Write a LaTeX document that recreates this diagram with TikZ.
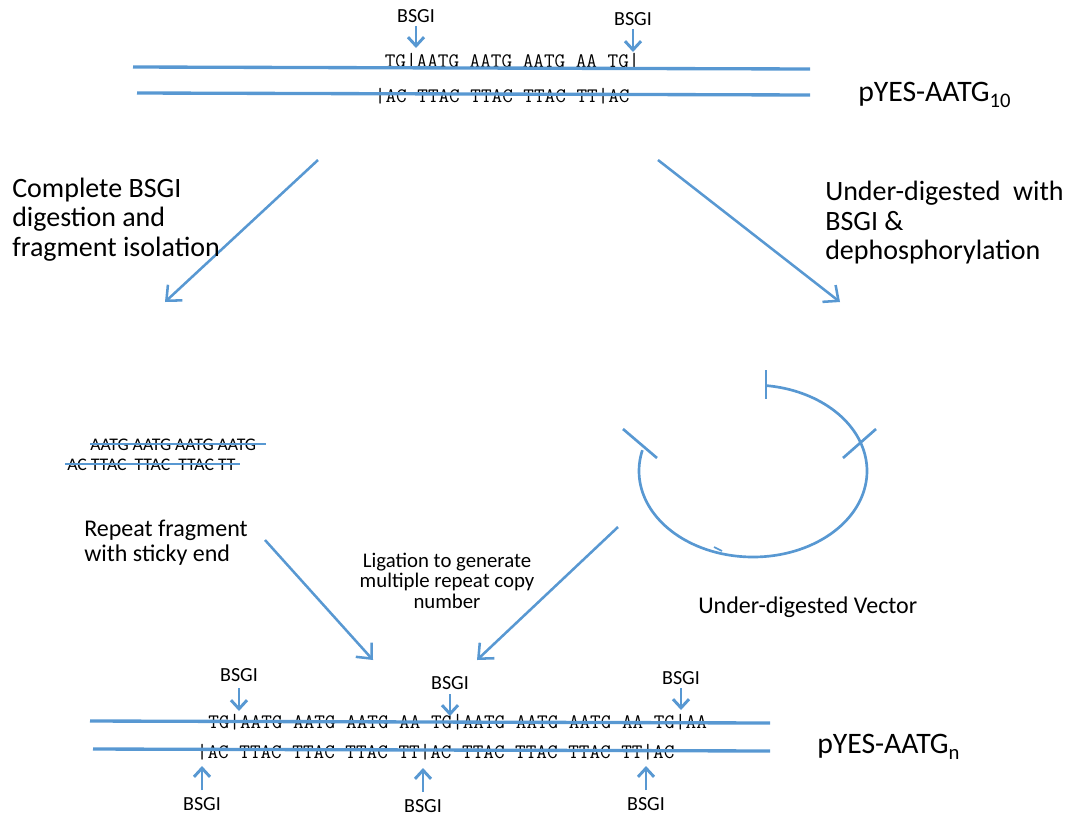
\documentclass[tikz,border=0pt]{standalone}
\usepackage{fontspec}
\setmainfont{Carlito}
\usetikzlibrary{arrows.meta}
\definecolor{dnablue}{RGB}{88,152,210}
\begin{document}
\begin{tikzpicture}[x=0.75pt,y=-0.75pt,
  strand/.style={draw=dnablue, line width=2.5pt},
  bigarrow/.style={draw=dnablue, line width=1.9pt, -{Straight Barb[length=9pt,width=16pt]}},
  cutarrow/.style={draw=dnablue, line width=2.2pt, -{Straight Barb[length=6.5pt,width=12pt]}},
  ring/.style={draw=dnablue, line width=2pt},
  seq/.style={inner sep=0pt, anchor=base west, font=\ttfamily\fontsize{15.45}{17}\selectfont},
  frag/.style={inner sep=0pt, anchor=base west, font=\fontsize{13.3}{15}\selectfont},
  big/.style={inner sep=0pt, anchor=base west, font=\fontsize{21}{24}\selectfont},
  mid/.style={inner sep=0pt, anchor=base west, font=\fontsize{18}{21}\selectfont},
  small/.style={inner sep=0pt, anchor=base, font=\fontsize{15.6}{18}\selectfont},
  enz/.style={inner sep=0pt, anchor=base, font=\fontsize{15}{18}\selectfont},
  plab/.style={inner sep=0pt, anchor=base west, font=\fontsize{22.3}{24}\selectfont}]
\useasboundingbox (0,0) rectangle (1070,815);

% ---------- top construct ----------
\node[seq] (topS) at (384.6,67) {TG|AATG AATG AATG AA TG|};
\node[seq] (topA) at (374.7,102) {|AC TTAC TTAC TTAC TT|AC};
\coordinate (t1a) at (133,67); \coordinate (t1b) at (810,69);
\coordinate (t2a) at (137,93); \coordinate (t2b) at (810,95);
\draw[strand] (t1a) -- (t1b);
\draw[strand] (t2a) -- (t2b);
\node[enz] (eT1) at (416,22) {BSGI};
\node[enz] (eT2) at (633,25) {BSGI};
\coordinate (cT1a) at (416,26); \coordinate (cT1b) at (416,48);
\coordinate (cT2a) at (633,29); \coordinate (cT2b) at (633,52);
\draw[cutarrow] (cT1a) -- (cT1b);
\draw[cutarrow] (cT2a) -- (cT2b);
\node[plab] (pTop) at (858,101) {pYES-AATG\raisebox{-0.22em}{\fontsize{15.5}{16}\selectfont 10}};

% ---------- branch arrows ----------
\coordinate (aLs) at (318,160); \coordinate (aLe) at (165,302);
\coordinate (aRs) at (658,160); \coordinate (aRe) at (840,302);
\draw[bigarrow] (aLs) -- (aLe);
\draw[bigarrow] (aRs) -- (aRe);
\node[big] (L1) at (12,197) {Complete BSGI};
\node[big] (L2) at (12,226.5) {digestion and};
\node[big] (L3) at (12,256) {fragment isolation};
\node[big] (R1) at (825,200) {Under-digested\ \ with};
\node[big] (R2) at (825,230) {BSGI \&};
\node[big] (R3) at (825,259) {dephosphorylation};

% ---------- repeat fragment ----------
\node[frag] (fTop) at (90,450) {AATG AATG AATG AATG};
\node[frag] (fBot) at (67,470) {AC TTAC\ \ TTAC\ \ TTAC TT};
\coordinate (f1a) at (90,444); \coordinate (f1b) at (266,444);
\coordinate (f2a) at (65,464); \coordinate (f2b) at (240,464);
\draw[strand, line width=2pt] (f1a) -- (f1b);
\draw[strand, line width=2pt] (f2a) -- (f2b);
\node[mid] (rf1) at (84,536) {Repeat fragment};
\node[mid] (rf2) at (84,561) {with sticky end};

% ---------- under-digested vector ----------
\draw[ring] plot[domain=-194:83.5, samples=120, smooth] ({753+114*cos(\x)},{471-86*sin(\x)});
\coordinate (tkA1) at (766,370); \coordinate (tkA2) at (766,399);
\coordinate (tkB1) at (843,458); \coordinate (tkB2) at (876,429);
\coordinate (tkC1) at (623,429); \coordinate (tkC2) at (657,458);
\draw[ring] (tkA1) -- (tkA2);
\draw[ring] (tkB1) -- (tkB2);
\draw[ring] (tkC1) -- (tkC2);
\coordinate (nk1) at (714,547); \coordinate (nk2) at (722,551);
\draw[draw=dnablue, line width=1.2pt] (nk1) -- (nk2);
\node[mid] (vec) at (698,613) {Under-digested Vector};

% ---------- ligation ----------
\coordinate (gLs) at (265,540); \coordinate (gLe) at (373,660);
\coordinate (gRs) at (618,527); \coordinate (gRe) at (477,660);
\draw[bigarrow] (gLs) -- (gLe);
\draw[bigarrow] (gRs) -- (gRe);
\node[small] (lg1) at (447,567) {Ligation to generate};
\node[small] (lg2) at (447,587) {multiple repeat copy};
\node[small] (lg3) at (447,608) {number};

% ---------- bottom construct ----------
\node[seq] (botS) at (208,728.5) {TG|AATG AATG AATG AA TG|AATG AATG AATG AA TG|AA};
\node[seq] (botA) at (196.7,758) {|AC TTAC TTAC TTAC TT|AC TTAC TTAC TTAC TT|AC};
\coordinate (b1a) at (90,721); \coordinate (b1b) at (770,723);
\coordinate (b2a) at (93,749); \coordinate (b2b) at (770,751);
\draw[strand] (b1a) -- (b1b);
\draw[strand] (b2a) -- (b2b);
\node[enz] (eB1) at (239,681) {BSGI};
\node[enz] (eB2) at (450,689) {BSGI};
\node[enz] (eB3) at (681,684) {BSGI};
\coordinate (cB1a) at (239,688); \coordinate (cB1b) at (239,711);
\coordinate (cB2a) at (450,694); \coordinate (cB2b) at (450,716);
\coordinate (cB3a) at (681,688); \coordinate (cB3b) at (681,710);
\draw[cutarrow] (cB1a) -- (cB1b);
\draw[cutarrow] (cB2a) -- (cB2b);
\draw[cutarrow] (cB3a) -- (cB3b);
\node[enz] (eU1) at (202,810) {BSGI};
\node[enz] (eU2) at (423,812) {BSGI};
\node[enz] (eU3) at (646,810) {BSGI};
\coordinate (cU1a) at (202,790); \coordinate (cU1b) at (202,766);
\coordinate (cU2a) at (423,792); \coordinate (cU2b) at (423,768);
\coordinate (cU3a) at (646,790); \coordinate (cU3b) at (646,766);
\draw[cutarrow] (cU1a) -- (cU1b);
\draw[cutarrow] (cU2a) -- (cU2b);
\draw[cutarrow] (cU3a) -- (cU3b);
\node[plab] (pBot) at (817,753) {pYES-AATG\raisebox{-0.22em}{\fontsize{15.5}{16}\selectfont n}};
\end{tikzpicture}
\end{document}
